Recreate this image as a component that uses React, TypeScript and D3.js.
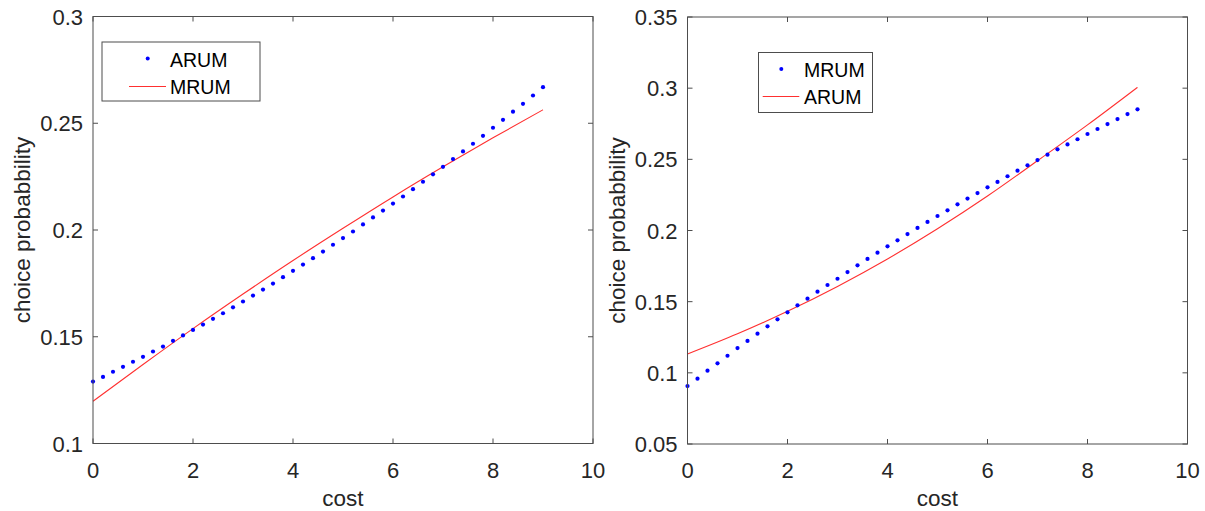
import React from "react";
import * as d3 from "d3";

// cost grid of the dotted series (step 0.2)
const costDots = [
  0, 0.2, 0.4, 0.6, 0.8, 1, 1.2, 1.4, 1.6, 1.8, 2, 2.2, 2.4, 2.6, 2.8, 3, 3.2, 3.4, 3.6, 3.8,
  4, 4.2, 4.4, 4.6, 4.8, 5, 5.2, 5.4, 5.6, 5.8, 6, 6.2, 6.4, 6.6, 6.8, 7, 7.2, 7.4, 7.6, 7.8,
  8, 8.2, 8.4, 8.6, 8.8, 9,
];
// cost grid of the line series
const costLine = [0, 1, 2, 3, 4, 5, 6, 7, 8, 9];

// left panel
const leftArum = [
  0.129, 0.1312, 0.1336, 0.1359, 0.1383, 0.1406, 0.1431, 0.1454, 0.1481, 0.1506, 0.1532,
  0.1557, 0.1584, 0.161, 0.1638, 0.1665, 0.1693, 0.1721, 0.1749, 0.1779, 0.1809, 0.1838,
  0.1868, 0.1899, 0.1931, 0.1962, 0.1993, 0.2026, 0.2059, 0.2091, 0.2124, 0.2157, 0.2191,
  0.2226, 0.2261, 0.2296, 0.2332, 0.2368, 0.2404, 0.2441, 0.2479, 0.2516, 0.2554, 0.2591,
  0.263, 0.2669,
];
const leftMrum = [0.1198, 0.137, 0.1538, 0.17, 0.1857, 0.2008, 0.2155, 0.2296, 0.2432, 0.2563];

// right panel
const rightMrum = [
  0.0907, 0.0959, 0.1015, 0.1067, 0.112, 0.1174, 0.1224, 0.1275, 0.1327, 0.1376, 0.1425,
  0.1474, 0.1521, 0.157, 0.1617, 0.1661, 0.1708, 0.1755, 0.18, 0.1844, 0.1889, 0.1931,
  0.1975, 0.2018, 0.206, 0.2102, 0.2142, 0.2184, 0.2224, 0.2263, 0.2303, 0.2341, 0.2381,
  0.242, 0.2458, 0.2495, 0.2533, 0.257, 0.2605, 0.2641, 0.2678, 0.2713, 0.2748, 0.2783,
  0.2818, 0.2851,
];
const rightArum = [0.1132, 0.1274, 0.1432, 0.1607, 0.18, 0.2012, 0.2242, 0.249, 0.2742, 0.3006];

const xTicks = [0, 2, 4, 6, 8, 10];
const leftYTicks = [0.1, 0.15, 0.2, 0.25, 0.3];
const rightYTicks = [0.05, 0.1, 0.15, 0.2, 0.25, 0.3, 0.35];

const FONT = "'Liberation Sans', Arial, Helvetica, sans-serif";
const TEXT = "#262626";
const AXIS = "#4d4d4d";
const RED = "#ff3030";

type Legend = { x: number; y: number; w: number; h: number; dotX: number; lineX0: number; lineX1: number; textX: number };

type PanelProps = {
  left: number;
  top: number;
  width: number;
  height: number;
  yDomain: [number, number];
  yTicks: number[];
  dots: number[];
  line: number[];
  dotName: string;
  lineName: string;
  legend: Legend;
};

function Panel(p: PanelProps) {
  const x = d3.scaleLinear().domain([0, 10]).range([p.left, p.left + p.width]);
  const y = d3.scaleLinear().domain(p.yDomain).range([p.top + p.height, p.top]);
  const linePath = d3
    .line<number>()
    .x((_, i) => x(costLine[i]))
    .y((d) => y(d))
    .curve(d3.curveMonotoneX)(p.line);
  const bottom = p.top + p.height;
  const right = p.left + p.width;
  const tick = 5;
  const fmt = (v: number) => String(+v.toFixed(2));
  const lg = p.legend;
  // keep the 1px legend sample on a pixel row so it stays red
  const sampleY = Math.round(lg.y + 43.5) + 0.5;

  return (
    <g fontFamily={FONT}>
      {/* data */}
      <path d={linePath || ""} fill="none" stroke={RED} strokeWidth={1.1} />
      {p.dots.map((v, i) => (
        <circle key={i} cx={x(costDots[i])} cy={y(v)} r={2.1} fill="#0000ff" />
      ))}
      {/* box + ticks */}
      <rect x={p.left} y={p.top} width={p.width} height={p.height} fill="none" stroke={AXIS} strokeWidth={1} />
      {xTicks.map((t) => (
        <g key={"x" + t}>
          <line x1={x(t)} x2={x(t)} y1={bottom} y2={bottom - tick} stroke={AXIS} />
          <line x1={x(t)} x2={x(t)} y1={p.top} y2={p.top + tick} stroke={AXIS} />
          <text x={x(t)} y={bottom + 34} textAnchor="middle" fontSize={22} fill={TEXT}>
            {t}
          </text>
        </g>
      ))}
      {p.yTicks.map((t) => (
        <g key={"y" + t}>
          <line x1={p.left} x2={p.left + tick} y1={y(t)} y2={y(t)} stroke={AXIS} />
          <line x1={right} x2={right - tick} y1={y(t)} y2={y(t)} stroke={AXIS} />
          <text x={p.left - 10} y={y(t) + 8} textAnchor="end" fontSize={22} fill={TEXT}>
            {fmt(t)}
          </text>
        </g>
      ))}
      <text x={(p.left + right) / 2} y={bottom + 62} textAnchor="middle" fontSize={22.5} fill={TEXT}>
        cost
      </text>
      <text
        transform={`translate(${p.left - 63},${(p.top + bottom) / 2}) rotate(-90)`}
        textAnchor="middle"
        fontSize={22.5}
        fill={TEXT}
      >
        choice probabbility
      </text>
      {/* legend */}
      <rect x={lg.x} y={lg.y} width={lg.w} height={lg.h} fill="#fff" stroke={AXIS} strokeWidth={1} />
      <circle cx={lg.dotX} cy={lg.y + 16.5} r={2} fill="#0000ff" />
      <text x={lg.textX} y={lg.y + 24.7} fontSize={19.5} fill="#000">
        {p.dotName}
      </text>
      <line x1={lg.lineX0} x2={lg.lineX1} y1={sampleY} y2={sampleY} stroke={RED} strokeWidth={1} />
      <text x={lg.textX} y={lg.y + 51.8} fontSize={19.5} fill="#000">
        {p.lineName}
      </text>
    </g>
  );
}

export default function App() {
  return (
    <svg
      width={1205}
      height={511}
      style={{ position: "absolute", left: 0, top: 0, background: "#fff" }}
    >
      <rect width={1205} height={511} fill="#fff" />
      <Panel
        left={93}
        top={16.5}
        width={500}
        height={427}
        yDomain={[0.1, 0.3]}
        yTicks={leftYTicks}
        dots={leftArum}
        line={leftMrum}
        dotName="ARUM"
        lineName="MRUM"
        legend={{ x: 102, y: 42, w: 158, h: 59, dotX: 147.7, lineX0: 129, lineX1: 166, textX: 170 }}
      />
      <Panel
        left={687.5}
        top={17}
        width={500}
        height={427}
        yDomain={[0.05, 0.35]}
        yTicks={rightYTicks}
        dots={rightMrum}
        line={rightArum}
        dotName="MRUM"
        lineName="ARUM"
        legend={{ x: 758.5, y: 52.5, w: 114, h: 60, dotX: 781.3, lineX0: 762.7, lineX1: 799.3, textX: 804 }}
      />
    </svg>
  );
}
